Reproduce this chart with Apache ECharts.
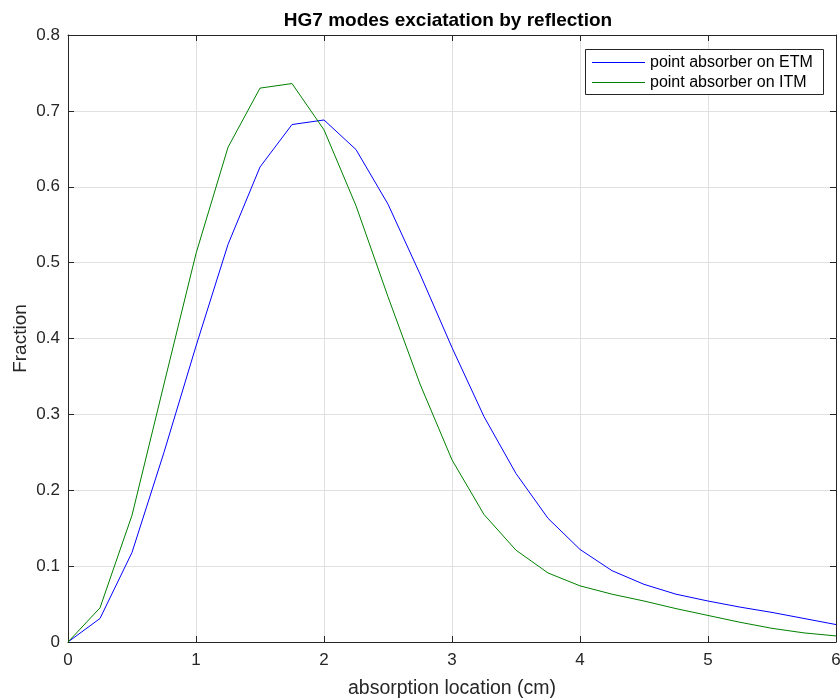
<!DOCTYPE html>
<html><head><meta charset="utf-8">
<script src="https://cdn.jsdelivr.net/npm/echarts@6/dist/echarts.min.js"></script>
<style>html,body{margin:0;padding:0;background:#fff}#c{width:840px;height:700px}</style>
</head><body><div id="c"></div>
<script>
const xValues = [0,0.25,0.5,0.75,1,1.25,1.5,1.75,2,2.25,2.5,2.75,3,3.25,3.5,3.75,4,4.25,4.5,4.75,5,5.25,5.5,5.75,6];
const etm = [0,0.031,0.118,0.250,0.390,0.524,0.626,0.682,0.688,0.649,0.577,0.485,0.388,0.297,0.222,0.163,0.122,0.094,0.076,0.063,0.054,0.046,0.039,0.031,0.023];
const itm = [0,0.045,0.167,0.340,0.512,0.652,0.730,0.736,0.675,0.575,0.455,0.340,0.240,0.168,0.121,0.091,0.074,0.063,0.054,0.044,0.035,0.026,0.018,0.012,0.008];
const seriesNames = ['point absorber on ETM','point absorber on ITM'];
const titleText = 'HG7 modes exciatation by reflection';
const xLabel = 'absorption location (cm)';
const yLabel = 'Fraction';

const font = '"Liberation Sans", Arial, Helvetica, sans-serif';
const txt = '#262626';
const chart = echarts.init(document.getElementById('c'), null, {renderer:'canvas'});
const pair = a => a.map((v,i)=>[xValues[i], v]);
const axisLineStyle = {show:true, onZero:false, lineStyle:{color:'#262626', width:1}};
const tick = {show:true, inside:true, length:6, lineStyle:{color:'#262626', width:1}};
chart.setOption({
  animation:false,
  backgroundColor:'#fff',
  title:{text:titleText, left:443, textAlign:'center', top:6,
    textStyle:{fontFamily:font, fontSize:19, fontWeight:'bold', color:'#000'}},
  legend:{show:false},
  grid:{left:68, right:4, top:35, bottom:58, containLabel:false, outerBoundsMode:'none'},
  xAxis:[{type:'value', min:0, max:6, interval:1, position:'bottom',
    name:xLabel, nameLocation:'middle', nameGap:37, nameMoveOverlap:false,
    nameTextStyle:{fontFamily:font, fontSize:19.5, color:txt},
    axisLine:axisLineStyle, axisTick:tick,
    axisLabel:{fontFamily:font, fontSize:17, color:txt, margin:10},
    splitLine:{show:true, lineStyle:{color:'#e0e0e0', width:1}}},
   {type:'value', min:0, max:6, interval:1, position:'top',
    axisLine:axisLineStyle, axisTick:tick,
    axisLabel:{show:false}, splitLine:{show:false}}],
  yAxis:[{type:'value', min:0, max:0.8, interval:0.1, position:'left',
    name:yLabel, nameLocation:'middle', nameGap:38, nameRotate:90, nameMoveOverlap:false,
    nameTextStyle:{fontFamily:font, fontSize:19, color:txt},
    axisLine:axisLineStyle, axisTick:tick,
    axisLabel:{fontFamily:font, fontSize:17, color:txt, margin:8, formatter:v=>String(Math.round(v*10)/10)},
    splitLine:{show:true, lineStyle:{color:'#e0e0e0', width:1}}},
   {type:'value', min:0, max:0.8, interval:0.1, position:'right',
    axisLine:axisLineStyle, axisTick:tick,
    axisLabel:{show:false}, splitLine:{show:false}}],
  series:[
    {name:seriesNames[0], type:'line', data:pair(etm), showSymbol:false, symbol:'none',
     lineStyle:{color:'#0000ff', width:1}, itemStyle:{color:'#0000ff'}, z:3},
    {name:seriesNames[1], type:'line', data:pair(itm), showSymbol:false, symbol:'none',
     lineStyle:{color:'#008000', width:1}, itemStyle:{color:'#008000'}, z:3},
    {name:'box', type:'line', xAxisIndex:1, yAxisIndex:1, data:[], symbol:'none', silent:true}
  ],
  graphic:[
    {type:'rect', shape:{x:585.5, y:49.5, width:238, height:45}, style:{fill:'#fff', stroke:'#262626', lineWidth:1}, z:10},
    {type:'line', shape:{x1:592, y1:62.5, x2:645, y2:62.5}, style:{stroke:'#0000ff', lineWidth:1}, z:11},
    {type:'line', shape:{x1:592, y1:82.5, x2:645, y2:82.5}, style:{stroke:'#008000', lineWidth:1}, z:11},
    {type:'text', x:650, y:63, style:{text:seriesNames[0], fill:'#000', font:'16px '+font, textVerticalAlign:'middle', verticalAlign:'middle'}, z:11},
    {type:'text', x:650, y:83, style:{text:seriesNames[1], fill:'#000', font:'16px '+font, textVerticalAlign:'middle', verticalAlign:'middle'}, z:11}
  ]
});
</script></body></html>
